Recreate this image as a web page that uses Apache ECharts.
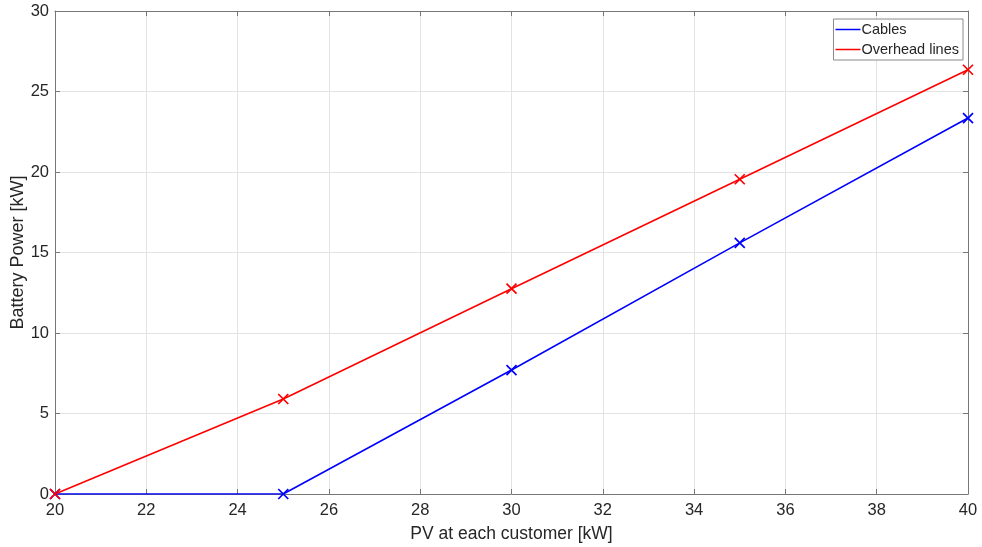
<!DOCTYPE html>
<html>
<head>
<meta charset="utf-8">
<script src="https://cdn.jsdelivr.net/npm/echarts@6/dist/echarts.min.js"></script>
<style>
html,body{margin:0;padding:0;background:#fff;}
#chart{width:982px;height:547px;}
</style>
</head>
<body>
<div id="chart"></div>
<script>
// PV installed at each customer [kW]
const pvLevels = [20, 25, 30, 35, 40];
// Required battery power [kW]
const cables = [0, 0, 7.7, 15.6, 23.35];
const overheadLines = [0, 5.9, 12.75, 19.55, 26.35];
const seriesNames = ['Cables', 'Overhead lines'];
const seriesColors = ['#0000ff', '#ff0000'];

const xMark = 'path://M0,0L10,10M10,0L0,10';
const font = '"Liberation Sans", Arial, sans-serif';
const axisGray = '#777';
const textColor = '#262626';

function pairs(vals) { return pvLevels.map((x, i) => [x, vals[i]]); }

function lineSeries(name, vals, color) {
  return {
    name: name,
    type: 'line',
    data: pairs(vals),
    symbol: xMark,
    symbolSize: 10,
    showSymbol: true,
    lineStyle: { color: color, width: 1.6 },
    itemStyle: { color: 'none', borderColor: color, borderWidth: 1.7 },
    emphasis: { disabled: true },
    animation: false
  };
}

const baseX = {
  type: 'value', min: 20, max: 40, interval: 2,
  axisLine: { show: true, onZero: false, lineStyle: { color: axisGray } },
  axisTick: { show: true, inside: true, length: 5, lineStyle: { color: axisGray } },
  splitLine: { show: false }
};
const baseY = {
  type: 'value', min: 0, max: 30, interval: 5,
  axisLine: { show: true, lineStyle: { color: axisGray } },
  axisTick: { show: true, inside: true, length: 5, lineStyle: { color: axisGray } },
  splitLine: { show: false }
};

const chart = echarts.init(document.getElementById('chart'), null, { renderer: 'canvas' });
chart.setOption({
  animation: false,
  backgroundColor: '#fff',
  grid: { left: 55, right: 14, top: 11, bottom: 53, containLabel: false, outerBoundsMode: 'none' },
  legend: {
    data: seriesNames.map((n, i) => ({
      name: n,
      icon: 'rect',
      itemStyle: { color: seriesColors[i], borderWidth: 0, opacity: 1 }
    })),
    orient: 'vertical',
    right: 19, top: 19,
    backgroundColor: '#fff',
    borderColor: '#8a8a8a', borderWidth: 1, borderRadius: 0,
    padding: [3, 4, 3, 2],
    itemGap: 5,
    itemWidth: 25, itemHeight: 1.5,
    textStyle: { fontFamily: font, fontSize: 14.5, color: textColor, padding: [0, 0, 0, -4] }
  },
  xAxis: [
    Object.assign({}, baseX, {
      position: 'bottom',
      name: 'PV at each customer [kW]',
      nameLocation: 'middle', nameGap: 31, nameMoveOverlap: false,
      nameTextStyle: { fontFamily: font, fontSize: 17.5, color: textColor },
      axisLabel: { fontFamily: font, fontSize: 16.5, color: textColor, margin: 8 },
      splitLine: { show: true, lineStyle: { color: '#e3e3e3', width: 1 } }
    }),
    Object.assign({}, baseX, { position: 'top', axisLabel: { show: false } })
  ],
  yAxis: [
    Object.assign({}, baseY, {
      position: 'left',
      name: 'Battery Power [kW]',
      nameLocation: 'middle', nameGap: 28, nameMoveOverlap: false,
      nameTextStyle: { fontFamily: font, fontSize: 18, color: textColor },
      axisLabel: { fontFamily: font, fontSize: 16.5, color: textColor, margin: 6 },
      splitLine: { show: true, lineStyle: { color: '#e3e3e3', width: 1 } }
    }),
    Object.assign({}, baseY, { position: 'right', axisLabel: { show: false } })
  ],
  series: [
    lineSeries(seriesNames[0], cables, seriesColors[0]),
    lineSeries(seriesNames[1], overheadLines, seriesColors[1])
  ]
});
</script>
</body>
</html>
